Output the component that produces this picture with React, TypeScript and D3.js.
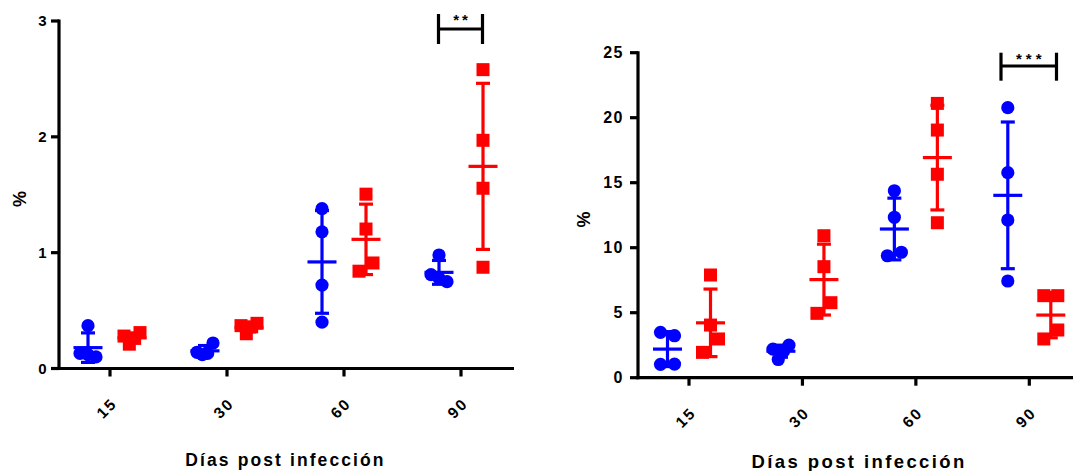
import React from 'react';
import * as d3 from 'd3';

// Days post infection (categories shared by both panels)
const days = ['15', '30', '60', '90'];

// Left panel: % per animal, blue group and red group
const leftBlue = [
  [0.37, 0.13, 0.12, 0.10],
  [0.14, 0.12, 0.13, 0.22],
  [1.38, 1.18, 0.72, 0.40],
  [0.98, 0.81, 0.78, 0.75],
];
const leftRed = [
  [0.28, 0.21, 0.26, 0.31],
  [0.37, 0.30, 0.36, 0.39],
  [1.505, 1.204, 0.84, 0.911],
  [2.58, 1.97, 1.556, 0.874],
];
const leftTicks = [0, 1, 2, 3];
const leftStars = '**';

// Right panel: % per animal
const rightBlue = [
  [3.49, 3.23, 1.03, 1.05],
  [2.2, 1.4, 2.05, 2.5],
  [14.38, 12.34, 9.38, 9.65],
  [20.77, 15.77, 12.13, 7.44],
];
const rightRed = [
  [7.9, 1.95, 4.05, 2.98],
  [10.92, 8.54, 4.95, 5.77],
  [21.1, 19.05, 15.65, 11.92],
  [6.31, 6.31, 2.98, 3.67],
];
const rightTicks = [0, 5, 10, 15, 20, 25];
const rightStars = '***';

const xTitle = 'Días post infección';
const yTitle = '%';

const BLUE = '#0000ff';
const RED = '#ff0000';
const FONT = '"Liberation Sans", Arial, Helvetica, sans-serif';

// Spread overlapping points of one column symmetrically around its centre
function dodge(values: number[], y: (v: number) => number, thr = 14, step = 14, maxW = 16) {
  const order = values.map((_, i) => i).sort((a, b) => y(values[a]) - y(values[b]));
  const rows: number[][] = [];
  order.forEach((i, k) => {
    if (k > 0 && y(values[i]) - y(values[order[k - 1]]) < thr) rows[rows.length - 1].push(i);
    else rows.push([i]);
  });
  const off = new Array(values.length).fill(0);
  rows.forEach((row) => {
    const r = row.slice().sort((a, b) => a - b);
    const n = r.length;
    const s = n > 1 ? Math.min(step, maxW / (n - 1)) : 0;
    r.forEach((i, j) => {
      off[i] = (j - (n - 1) / 2) * s;
    });
  });
  return off;
}

type Cfg = {
  x: d3.ScalePoint<string>;
  y: d3.ScaleLinear<number, number>;
  ticks: number[];
  blue: number[][];
  red: number[][];
  axisEnd: number;
  groupOff: number;
  yLabelGap: number;
  yTickFont: number;
  yTickLs: number;
  pctPos: [number, number];
  titleFont: number;
  titleLs: number;
  titleY: number;
  stars: string;
  bracket: [number, number, number, number, number];
  starY: number;
  starLs: number;
};

function Column({ cx, values, y, color, shape }: { cx: number; values: number[]; y: d3.ScaleLinear<number, number>; color: string; shape: 'circle' | 'square' }) {
  const mean = d3.mean(values) as number;
  const sd = d3.deviation(values) as number;
  const off = dodge(values, y);
  const sq = 13;
  return (
    <g>
      {values.map((v, i) =>
        shape === 'circle' ? (
          <circle key={i} cx={cx + off[i]} cy={y(v)} r={6.6} fill={color} />
        ) : (
          <rect key={i} x={cx + off[i] - sq / 2} y={y(v) - sq / 2} width={sq} height={sq} fill={color} />
        )
      )}
      <g stroke={color} strokeWidth={3.2} fill="none">
        <line x1={cx} x2={cx} y1={y(mean + sd)} y2={y(mean - sd)} />
        <line x1={cx - 7} x2={cx + 7} y1={y(mean + sd)} y2={y(mean + sd)} />
        <line x1={cx - 7} x2={cx + 7} y1={y(mean - sd)} y2={y(mean - sd)} />
        <line x1={cx - 14.5} x2={cx + 14.5} y1={y(mean)} y2={y(mean)} />
      </g>
    </g>
  );
}

function Panel(c: Cfg) {
  const { x, y } = c;
  const [y0, y1] = y.range();
  const ax = x.range()[0] - 51;
  const mid = (x.range()[0] + x.range()[1]) / 2;
  const [bx1, bx2, by, bt, bb] = c.bracket;
  return (
    <g fontFamily={FONT} fontWeight="bold" fill="#000">
      {c.blue.map((vals, i) => (
        <Column key={'b' + i} cx={(x(days[i]) as number) - c.groupOff} values={vals} y={y} color={BLUE} shape="circle" />
      ))}
      {c.red.map((vals, i) => (
        <Column key={'r' + i} cx={(x(days[i]) as number) + c.groupOff} values={vals} y={y} color={RED} shape="square" />
      ))}
      {/* axes */}
      <g stroke="#000" strokeWidth={3.2}>
        <line x1={ax} x2={ax} y1={y1 - 1.5} y2={y0 + 1.6} />
        <line x1={ax - 1.6} x2={c.axisEnd} y1={y0} y2={y0} />
        {c.ticks.map((t) => (
          <line key={t} x1={ax - 8} x2={ax} y1={y(t)} y2={y(t)} />
        ))}
        {days.map((d) => (
          <line key={d} x1={x(d)} x2={x(d)} y1={y0} y2={y0 + 8} />
        ))}
      </g>
      {c.ticks.map((t) => (
        <text key={t} x={ax - c.yLabelGap} y={y(t)} dy="0.36em" textAnchor="end" fontSize={c.yTickFont} letterSpacing={c.yTickLs}>
          {t}
        </text>
      ))}
      {days.map((d) => (
        <text
          key={d}
          transform={`translate(${(x(d) as number) + 8},${y0 + 36}) rotate(-45)`}
          textAnchor="end"
          fontSize={15.5}
          letterSpacing={2}
        >
          {d}
        </text>
      ))}
      <text x={mid} y={c.titleY} textAnchor="middle" fontSize={c.titleFont} letterSpacing={c.titleLs}>
        {xTitle}
      </text>
      <text transform={`translate(${c.pctPos[0]},${c.pctPos[1]}) rotate(-90)`} textAnchor="middle" dy="0.36em" fontSize={18}>
        {yTitle}
      </text>
      {/* significance bracket */}
      <g stroke="#000" strokeWidth={3.2}>
        <line x1={bx1} x2={bx2} y1={by} y2={by} />
        <line x1={bx1} x2={bx1} y1={bt} y2={bb} />
        <line x1={bx2} x2={bx2} y1={bt} y2={bb} />
      </g>
      <text x={(bx1 + bx2) / 2 + c.starLs / 2} y={c.starY} textAnchor="middle" fontSize={15} letterSpacing={c.starLs}>
        {c.stars}
      </text>
    </g>
  );
}

export default function App() {
  const xL = d3.scalePoint<string>().domain(days).range([110, 461]);
  const yL = d3.scaleLinear().domain([0, 3]).range([368.5, 21]);
  const xR = d3.scalePoint<string>().domain(days).range([689, 1029.3]);
  const yR = d3.scaleLinear().domain([0, 25]).range([377.7, 52.7]);

  return (
    <svg width={1073} height={471} style={{ position: 'absolute', left: 0, top: 0, background: '#fff' }}>
      <rect width={1073} height={471} fill="#fff" />
      <Panel
        x={xL}
        y={yL}
        ticks={leftTicks}
        blue={leftBlue}
        red={leftRed}
        axisEnd={514}
        groupOff={22}
        yLabelGap={12.5}
        yTickFont={15}
        yTickLs={0}
        pctPos={[19.8, 199]}
        titleFont={17.5}
        titleLs={2.1}
        titleY={466}
        stars={leftStars}
        bracket={[438.5, 482.5, 29, 14, 44]}
        starY={25}
        starLs={3}
      />
      <Panel
        x={xR}
        y={yR}
        ticks={rightTicks}
        blue={rightBlue}
        red={rightRed}
        axisEnd={1073}
        groupOff={21.5}
        yLabelGap={14}
        yTickFont={16}
        yTickLs={1.5}
        pctPos={[584, 219.5]}
        titleFont={18.5}
        titleLs={2.4}
        titleY={468}
        stars={rightStars}
        bracket={[1001, 1056.5, 66, 52.7, 80.7]}
        starY={64}
        starLs={4}
      />
    </svg>
  );
}
